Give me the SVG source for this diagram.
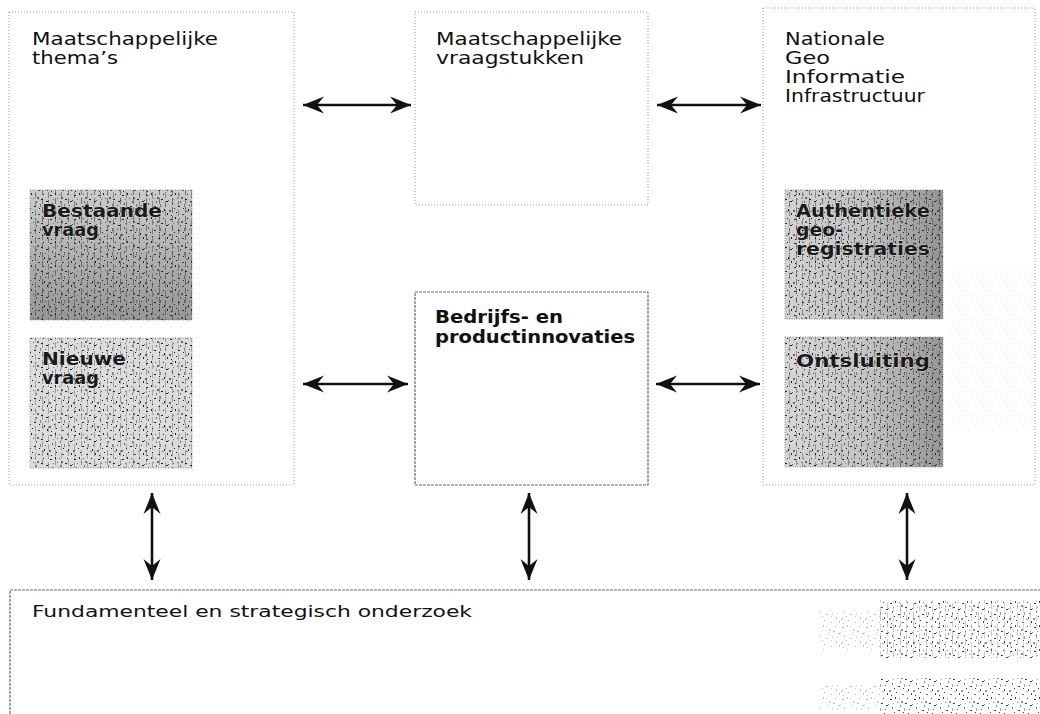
<svg xmlns="http://www.w3.org/2000/svg" width="1040" height="714" viewBox="0 0 1040 714">
<style>
.frame{fill:none;stroke:#9a9a9a;stroke-width:1;stroke-dasharray:1 2}
.frame2{fill:none;stroke:#6a6a6a;stroke-width:1.2;stroke-dasharray:3 1}
.lbl{font-family:"DejaVu Sans","Verdana",sans-serif;font-size:17px;fill:#111}
.in{font-family:"DejaVu Sans","Verdana",sans-serif;font-size:17px;font-weight:bold;fill:#1a1a1a;stroke:#ffffff;stroke-width:0.5;paint-order:stroke}
.bold{font-family:"DejaVu Sans","Verdana",sans-serif;font-size:17px;font-weight:bold;fill:#111}
.foot{font-family:"DejaVu Sans","Verdana",sans-serif;font-size:16px;fill:#111}
.conn{stroke:#111;stroke-width:2.6;fill:none;marker-start:url(#ah);marker-end:url(#ah)}
.photo{stroke:#8a8a8a;stroke-width:1;stroke-dasharray:1 1.5}
</style>
<defs>
<marker id="ah" viewBox="-22 -10 24 20" refX="0" refY="0" markerWidth="24" markerHeight="20" markerUnits="userSpaceOnUse" orient="auto-start-reverse">
<path d="M0,0 L-21,-8.5 L-14,0 L-21,8.5 Z" fill="#111"/>
</marker>
<pattern id="speck" width="24" height="24" patternUnits="userSpaceOnUse">
<g fill="#222">
<rect x="2" y="3" width="2" height="1"/><rect x="7" y="1" width="1" height="2"/><rect x="13" y="5" width="2" height="2" opacity=".6"/>
<rect x="19" y="2" width="1" height="1"/><rect x="22" y="9" width="2" height="1"/><rect x="4" y="11" width="1" height="2" opacity=".7"/>
<rect x="10" y="14" width="2" height="1"/><rect x="16" y="12" width="1" height="3" opacity=".5"/><rect x="1" y="18" width="2" height="2" opacity=".6"/>
<rect x="8" y="20" width="1" height="1"/><rect x="14" y="22" width="2" height="1" opacity=".8"/><rect x="20" y="17" width="1" height="2"/>
<rect x="5" y="7" width="1" height="1" opacity=".5"/><rect x="17" y="7" width="2" height="1"/><rect x="11" y="2" width="1" height="1" opacity=".7"/>
<rect x="23" y="21" width="1" height="2"/><rect x="3" y="23" width="1" height="1"/><rect x="12" y="9" width="1" height="2" opacity=".6"/>
<rect x="18" y="19" width="2" height="1" opacity=".5"/><rect x="6" y="16" width="1" height="1"/><rect x="21" y="13" width="1" height="1" opacity=".8"/>
<rect x="9" y="6" width="1" height="1" opacity=".6"/><rect x="15" y="16" width="1" height="1"/><rect x="0" y="8" width="1" height="1" opacity=".7"/>
</g>
</pattern>
<pattern id="streak" width="13" height="9" patternUnits="userSpaceOnUse">
<rect x="3" y="0" width="1" height="6" fill="#333" opacity=".55"/>
<rect x="9" y="3" width="1" height="6" fill="#333" opacity=".45"/>
</pattern>
<linearGradient id="darkR" x1="0" y1="0" x2="1" y2="0">
<stop offset="0" stop-color="#000" stop-opacity="0"/>
<stop offset="0.5" stop-color="#000" stop-opacity="0.08"/>
<stop offset="1" stop-color="#000" stop-opacity="0.3"/>
</linearGradient>
<linearGradient id="darkB" x1="0" y1="0" x2="0" y2="1">
<stop offset="0" stop-color="#000" stop-opacity="0.05"/>
<stop offset="1" stop-color="#000" stop-opacity="0.3"/>
</linearGradient>
</defs>
<rect width="1040" height="714" fill="#ffffff"/>

<g id="col-themas">
<rect class="frame" x="9" y="12" width="285" height="473"/>
<text class="lbl" x="32" y="45" textLength="186" lengthAdjust="spacingAndGlyphs">Maatschappelijke</text>
<text class="lbl" x="32" y="64" textLength="86" lengthAdjust="spacingAndGlyphs">thema’s</text>
</g>

<g id="col-vraagstukken">
<rect class="frame" x="415" y="12" width="233" height="193"/>
<text class="lbl" x="436" y="45" textLength="186" lengthAdjust="spacingAndGlyphs">Maatschappelijke</text>
<text class="lbl" x="436" y="64" textLength="148" lengthAdjust="spacingAndGlyphs">vraagstukken</text>
</g>

<g id="col-ngii">
<rect class="frame" x="763" y="8" width="272" height="477"/>
<rect x="950" y="270" width="85" height="160" fill="url(#speck)" opacity="0.08"/>
<text class="lbl" x="785" y="45" textLength="100" lengthAdjust="spacingAndGlyphs">Nationale</text>
<text class="lbl" x="785" y="64" textLength="45" lengthAdjust="spacingAndGlyphs">Geo</text>
<text class="lbl" x="785" y="83" textLength="120" lengthAdjust="spacingAndGlyphs">Informatie</text>
<text class="lbl" x="785" y="102" textLength="140" lengthAdjust="spacingAndGlyphs">Infrastructuur</text>
</g>

<g id="box-bestaande-vraag">
<rect x="30" y="190" width="162" height="130" fill="#d6d6d6"/>
<rect x="30" y="190" width="162" height="130" fill="url(#darkB)"/>
<rect x="30" y="190" width="162" height="130" fill="url(#streak)"/>
<rect x="30" y="190" width="162" height="130" fill="url(#speck)"/>
<rect class="photo" x="30" y="190" width="162" height="130" fill="none"/>
<text class="in" x="42" y="217" textLength="120" lengthAdjust="spacingAndGlyphs">Bestaande</text>
<text class="in" x="42" y="236" textLength="57" lengthAdjust="spacingAndGlyphs">vraag</text>
</g>

<g id="box-nieuwe-vraag">
<rect x="30" y="338" width="162" height="130" fill="#dcdcdc"/>
<rect x="30" y="338" width="162" height="130" fill="url(#streak)" opacity="0.7"/>
<rect x="30" y="338" width="162" height="130" fill="url(#speck)"/>
<rect class="photo" x="30" y="338" width="162" height="130" fill="none"/>
<text class="in" x="42" y="365" textLength="84" lengthAdjust="spacingAndGlyphs">Nieuwe</text>
<text class="in" x="42" y="384" textLength="57" lengthAdjust="spacingAndGlyphs">vraag</text>
</g>

<g id="box-bedrijfs">
<rect class="frame2" x="415" y="292" width="233" height="193"/>
<text class="bold" x="435" y="323" textLength="128" lengthAdjust="spacingAndGlyphs">Bedrijfs- en</text>
<text class="bold" x="435" y="343" textLength="200" lengthAdjust="spacingAndGlyphs">productinnovaties</text>
</g>

<g id="box-authentieke">
<rect x="785" y="190" width="158" height="129" fill="#d2d2d2"/>
<rect x="785" y="190" width="158" height="129" fill="url(#darkR)"/>
<rect x="785" y="190" width="158" height="129" fill="url(#streak)"/>
<rect x="785" y="190" width="158" height="129" fill="url(#speck)"/>
<rect class="photo" x="785" y="190" width="158" height="129" fill="none"/>
<text class="in" x="796" y="217" textLength="134" lengthAdjust="spacingAndGlyphs">Authentieke</text>
<text class="in" x="796" y="236" textLength="47" lengthAdjust="spacingAndGlyphs">geo-</text>
<text class="in" x="796" y="255" textLength="134" lengthAdjust="spacingAndGlyphs">registraties</text>
</g>

<g id="box-ontsluiting">
<rect x="785" y="337" width="158" height="130" fill="#d6d6d6"/>
<rect x="785" y="337" width="158" height="130" fill="url(#darkR)"/>
<rect x="785" y="337" width="158" height="130" fill="url(#streak)" opacity="0.8"/>
<rect x="785" y="337" width="158" height="130" fill="url(#speck)"/>
<rect class="photo" x="785" y="337" width="158" height="130" fill="none"/>
<text class="in" x="796" y="367" textLength="134" lengthAdjust="spacingAndGlyphs">Ontsluiting</text>
</g>

<g id="box-fundamenteel">
<rect class="frame2" x="10" y="590" width="1040" height="140"/>
<rect x="880" y="600" width="160" height="58" fill="url(#speck)" opacity="0.85"/>
<rect x="880" y="600" width="160" height="58" fill="url(#streak)" opacity="0.5"/>
<rect x="880" y="678" width="160" height="36" fill="url(#speck)" opacity="0.85"/>
<rect x="820" y="610" width="60" height="40" fill="url(#speck)" opacity="0.3"/>
<rect x="820" y="685" width="60" height="25" fill="url(#speck)" opacity="0.3"/>
<text class="foot" x="32" y="617" textLength="440" lengthAdjust="spacingAndGlyphs">Fundamenteel en strategisch onderzoek</text>
</g>

<g id="connectors">
<line class="conn" x1="303" y1="105" x2="411" y2="105"/>
<line class="conn" x1="657" y1="105" x2="761" y2="105"/>
<line class="conn" x1="303" y1="384" x2="408" y2="384"/>
<line class="conn" x1="656" y1="384" x2="760" y2="384"/>
<line class="conn" x1="152" y1="493" x2="152" y2="580"/>
<line class="conn" x1="529" y1="493" x2="529" y2="580"/>
<line class="conn" x1="907" y1="493" x2="907" y2="580"/>
</g>
</svg>
